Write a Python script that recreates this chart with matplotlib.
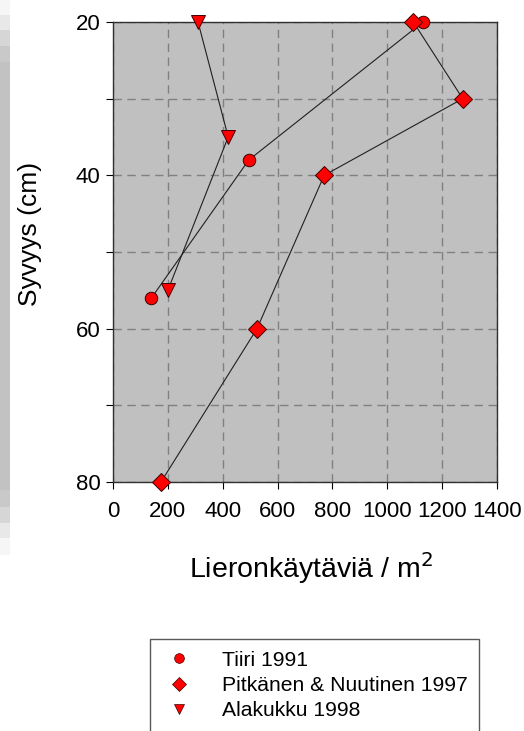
import matplotlib.pyplot as plt
from matplotlib.patches import Rectangle

# lieronkäytävien määrä syvyyden mukaan
tiiri_x = [1130, 495, 140]
tiiri_y = [20, 38, 56]

pitkanen_x = [1095, 1275, 770, 525, 175]
pitkanen_y = [20, 30, 40, 60, 80]

alakukku_x = [310, 420, 200]
alakukku_y = [20, 35, 55]

x_ticks = [0, 200, 400, 600, 800, 1000, 1200, 1400]
y_ticks = [20, 30, 40, 50, 60, 70, 80]
y_labels = ['20', '', '40', '', '60', '', '80']

plt.rcParams['font.family'] = ['Liberation Sans', 'DejaVu Sans']

W, H = 524, 731
fig = plt.figure(figsize=(W / 100, H / 100), dpi=100)

# harmaa reunaraita vasemmalla
strip = [(0, 15, '#f6f6f6'), (15, 30, '#e8e8e8'), (30, 46, '#d6d6d6'),
         (46, 62, '#c9c9c9'), (62, 490, '#c2c2c2'), (490, 507, '#c9c9c9'),
         (507, 523, '#d6d6d6'), (523, 538, '#e8e8e8'), (538, 555, '#f6f6f6')]
for y0, y1, c in strip:
    fig.patches.append(Rectangle((0, 1 - y1 / H), 10 / W, (y1 - y0) / H,
                                 transform=fig.transFigure, color=c, lw=0))

ax = fig.add_axes([113 / W, 1 - 482 / H, 384 / W, 460 / H])
ax.set_facecolor('#c0c0c0')

mk = dict(color='#202020', lw=0.8, markerfacecolor='#ff0000',
          markeredgecolor='#400000', markeredgewidth=0.7, clip_on=False, zorder=3)
ax.plot(tiiri_x, tiiri_y, marker='o', ms=9, label='Tiiri 1991', **mk)
ax.plot(pitkanen_x, pitkanen_y, marker='D', ms=9, label='Pitkänen & Nuutinen 1997', **mk)
ax.plot(alakukku_x, alakukku_y, marker='v', ms=10, label='Alakukku 1998', **mk)

ax.set_xlim(0, 1400)
ax.set_ylim(80, 20)
ax.set_xticks(x_ticks)
ax.set_yticks(y_ticks)
ax.set_yticklabels(y_labels)
ax.tick_params(labelsize=16, length=5, width=0.8, direction='out')
ax.tick_params(axis='x', pad=9)
ax.tick_params(axis='y', pad=4)
ax.grid(True, color='#808080', ls=(0, (6, 4)), lw=1)
ax.set_axisbelow(True)
for s in ax.spines.values():
    s.set_color('#303030')
    s.set_linewidth(1)

fig.text(311 / W, 1 - 568 / H, 'Lieronkäytäviä / m$^2$', ha='center', va='center', fontsize=20.5)
fig.text(30 / W, 1 - 234 / H, 'Syvyys (cm)', ha='center', va='center', fontsize=19, rotation=90)

handles, labels = ax.get_legend_handles_labels()
leg_handles = [plt.Line2D([], [], ls='none', marker=h.get_marker(), ms=7,
                          markerfacecolor='#ff0000', markeredgecolor='#400000',
                          markeredgewidth=0.5) for h in handles]
leg = fig.legend(leg_handles, labels, loc='upper left',
                 bbox_to_anchor=(150 / W, 1 - 639 / H), fontsize=15.2,
                 frameon=True, fancybox=False, edgecolor='#303030',
                 borderpad=0.55, labelspacing=0.3, handletextpad=1.25,
                 handlelength=1.6, borderaxespad=0)
leg.get_frame().set_linewidth(1)

fig.savefig('out.png', dpi=100)
